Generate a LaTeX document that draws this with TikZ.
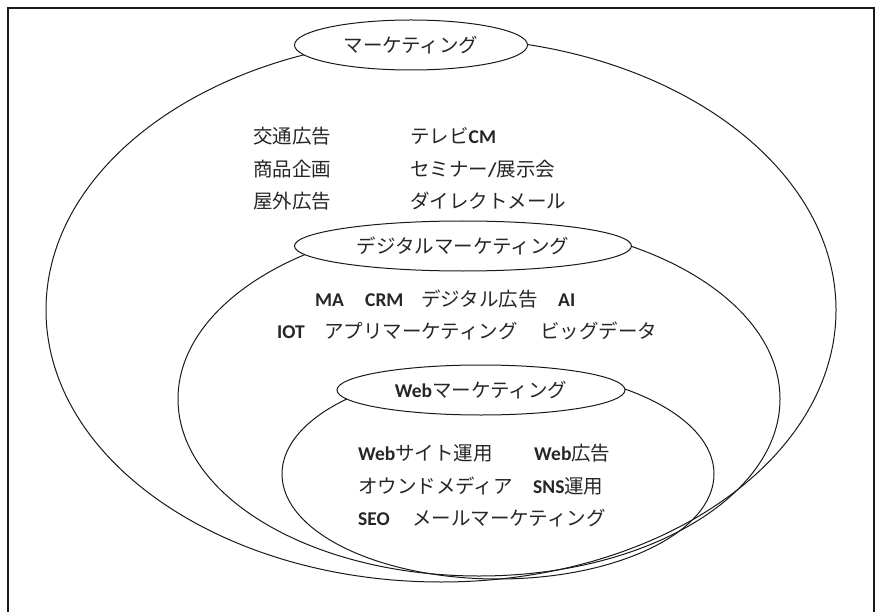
\documentclass[tikz,border=0pt]{standalone}
\usepackage{fontspec}
\setmainfont{Carlito}
\newfontfamily\jpfont{Noto Sans CJK JP}
\usetikzlibrary{shapes.geometric}
\newcommand\jp[1]{{\jpfont #1}}
\tikzset{
  ring/.style={draw=black!90, ellipse, inner sep=0pt, line width=1pt},
  tagbox/.style={draw=black!90, ellipse, inner sep=0pt, line width=1pt, fill=white,
    text=black!85, minimum height=50pt, font=\fontsize{19.5}{20}\selectfont},
  txt/.style={anchor=base west, inner sep=0pt, text=black!85,
    font=\fontsize{19.5}{20}\selectfont},
  frame/.style={draw=black!90, line width=2pt}
}
\begin{document}
\begin{tikzpicture}[x=1pt, y=-1pt]
\useasboundingbox (0,0) rectangle (877,612);
% frame
\coordinate (f1) at (8,612);
\coordinate (f2) at (8,8);
\coordinate (f3) at (874,8);
\coordinate (f4) at (874,612);
\draw[frame] (f1) -- (f2) -- (f3) -- (f4);
% big rings
\node[ring, minimum width=790pt, minimum height=544pt] (outer) at (441,310) {};
\node[ring, minimum width=602pt, minimum height=354pt] (digital) at (479,399) {};
\node[ring, minimum width=432pt, minimum height=210pt] (web) at (498,474) {};
% labels
\node[tagbox, minimum width=233pt] (mlabel) at (411,45) {\jp{マーケティング}};
\node[tagbox, minimum width=337pt] (dlabel) at (463,246) {\jp{デジタルマーケティング}};
\node[tagbox, minimum width=288pt] (wlabel) at (481,390) {\textbf{Web}\jp{マーケティング}};
% marketing texts
\node[txt] (m1) at (253,144) {\jp{交通広告}};
\node[txt] (m2) at (253,177) {\jp{商品企画}};
\node[txt] (m3) at (253,209) {\jp{屋外広告}};
\node[txt] (m4) at (410,144) {\jp{テレビ}\textbf{CM}};
\node[txt] (m5) at (410,177) {\jp{セミナー}\textbf{/}\jp{展示会}};
\node[txt] (m6) at (410,209) {\jp{ダイレクトメール}};
% digital texts
\node[txt] (d1) at (315,306) {\textbf{MA}};
\node[txt] (d2) at (365,306) {\textbf{CRM}};
\node[txt] (d3) at (421,306) {\jp{デジタル広告}};
\node[txt] (d4) at (558,306) {\textbf{AI}};
\node[txt] (d5) at (277,338) {\textbf{IOT}};
\node[txt] (d6) at (324,338) {\jp{アプリマーケティング}};
\node[txt] (d7) at (540,338) {\jp{ビッグデータ}};
% web texts
\node[txt] (w1) at (358,460) {\textbf{Web}\jp{サイト運用}};
\node[txt] (w2) at (534,460) {\textbf{Web}\jp{広告}};
\node[txt] (w3) at (358,493) {\jp{オウンドメディア}};
\node[txt] (w4) at (533,493) {\textbf{SNS}\jp{運用}};
\node[txt] (w5) at (358,525) {\textbf{SEO}};
\node[txt] (w6) at (412,525) {\jp{メールマーケティング}};
\end{tikzpicture}
\end{document}
